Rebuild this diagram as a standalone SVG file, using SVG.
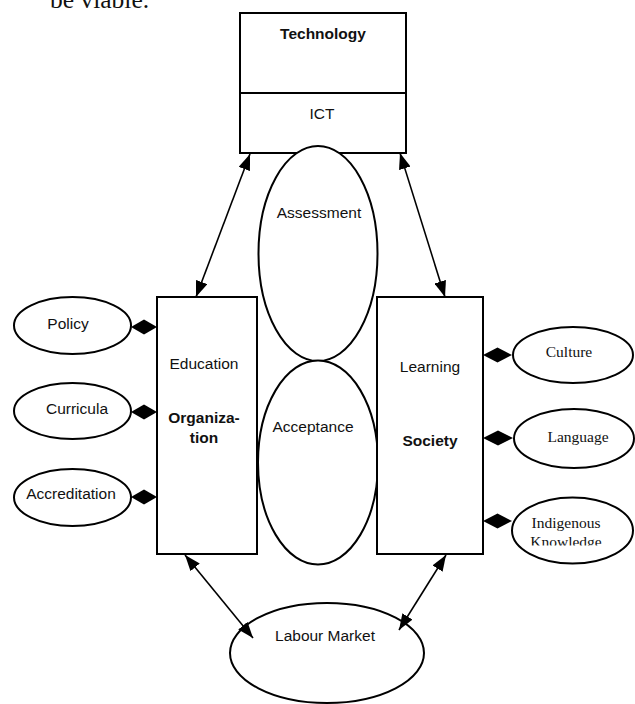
<svg xmlns="http://www.w3.org/2000/svg" width="635" height="704" viewBox="0 0 635 704">
<style>
.box{fill:#fff;stroke:#000;stroke-width:2}
.ell{fill:#fff;stroke:#000;stroke-width:2}
.s{font-family:"Liberation Sans",Arial,sans-serif;font-size:15.5px;fill:#111;text-anchor:middle}
.b{font-weight:bold}
.t{font-family:"Liberation Serif","Times New Roman",serif;font-size:15.5px;fill:#111;text-anchor:middle}
.ln{stroke:#000;stroke-width:1.6;fill:none;marker-start:url(#ah);marker-end:url(#ah)}
.dm{fill:#000}
</style>
<defs>
<marker id="ah" viewBox="0 0 16 12" refX="16" refY="6" markerWidth="16" markerHeight="12" markerUnits="userSpaceOnUse" orient="auto-start-reverse">
<path d="M0,0 L16,6 L0,12 Z" fill="#000"/>
</marker>
<clipPath id="kclip"><rect x="500" y="490" width="135" height="55.5"/></clipPath>
</defs>
<rect width="635" height="704" fill="#fff"/>
<text x="50" y="8" font-family="'Liberation Serif','Times New Roman',serif" font-size="25.5" fill="#111">be viable.</text>

<g id="technology">
<rect class="box" x="240" y="13" width="166" height="140"/>
<line x1="240" y1="93" x2="406" y2="93" stroke="#000" stroke-width="2"/>
<text class="s b" x="323" y="39">Technology</text>
<text class="s" x="322" y="119">ICT</text>
</g>

<g id="assessment">
<ellipse class="ell" cx="318" cy="253.5" rx="59.5" ry="107.5"/>
<text class="s" x="319" y="218">Assessment</text>
</g>

<g id="acceptance">
<path class="ell" d="M258,462.5 A60,102 0 0 1 378,462.5 A60,102 0 0 1 258,462.5 Z"/>
<text class="s" x="313" y="432">Acceptance</text>
</g>

<g id="education">
<rect class="box" x="157" y="297" width="100" height="257"/>
<text class="s" x="204" y="369">Education</text>
<text class="s b" x="204" y="423">Organiza-</text>
<text class="s b" x="204" y="443">tion</text>
</g>

<g id="society">
<rect class="box" x="377" y="297" width="106" height="257"/>
<text class="s" x="430" y="372">Learning</text>
<text class="s b" x="430" y="446">Society</text>
</g>

<g id="policy">
<ellipse class="ell" cx="72.5" cy="325.5" rx="58.5" ry="28.5"/>
<text class="s" x="68" y="329">Policy</text>
</g>
<g id="curricula">
<ellipse class="ell" cx="72.5" cy="411" rx="58.5" ry="28"/>
<text class="s" x="77" y="414">Curricula</text>
</g>
<g id="accreditation">
<ellipse class="ell" cx="72.5" cy="497.5" rx="58.5" ry="28.5"/>
<text class="s" x="71" y="499">Accreditation</text>
</g>

<g id="culture">
<ellipse class="ell" cx="573" cy="355" rx="60" ry="28"/>
<text class="t" x="569" y="357">Culture</text>
</g>
<g id="language">
<ellipse class="ell" cx="574" cy="438.5" rx="60" ry="29.5"/>
<text class="t" x="578" y="442">Language</text>
</g>
<g id="indigenous">
<ellipse class="ell" cx="572.5" cy="530.5" rx="60.5" ry="33"/>
<g clip-path="url(#kclip)">
<text class="t" x="566" y="528">Indigenous</text>
<text class="t" x="566" y="547">Knowledge</text>
</g>
</g>

<g id="labour-market">
<ellipse class="ell" cx="327" cy="653" rx="97" ry="50"/>
<text class="s" x="325" y="641">Labour Market</text>
</g>

<g id="connectors">
<line class="ln" x1="250" y1="154" x2="196" y2="297"/>
<line class="ln" x1="400" y1="153" x2="445" y2="297"/>
<line class="ln" x1="185" y1="555" x2="253" y2="638"/>
<line class="ln" x1="446" y1="555" x2="399" y2="630"/>
<path class="dm" d="M131,327 L144,319.5 L157,327 L144,334.5 Z"/>
<path class="dm" d="M131,412 L144,404.5 L157,412 L144,419.5 Z"/>
<path class="dm" d="M131,497 L144,489.5 L157,497 L144,504.5 Z"/>
<path class="dm" d="M483,355 L497.5,347.5 L512,355 L497.5,362.5 Z"/>
<path class="dm" d="M483,438 L498,430.5 L513,438 L498,445.5 Z"/>
<path class="dm" d="M483,521 L497.5,513.5 L512,521 L497.5,528.5 Z"/>
</g>
</svg>
